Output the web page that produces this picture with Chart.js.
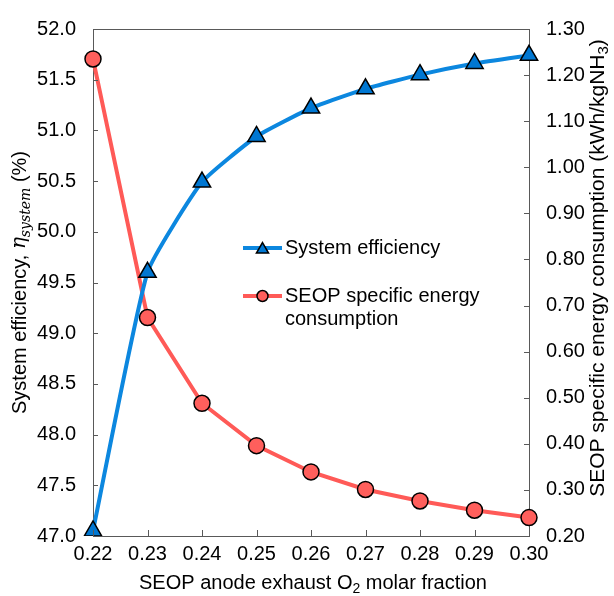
<!DOCTYPE html>
<html>
<head>
<meta charset="utf-8">
<script src="https://cdn.jsdelivr.net/npm/chart.js@4/dist/chart.umd.min.js"></script>
<style>
  html, body { margin: 0; padding: 0; background: #fff; }
  #wrap { width: 614px; height: 596px; }
</style>
</head>
<body>
<div id="wrap"><canvas id="chart" width="614" height="596"></canvas></div>
<script>
const xLabels = ['0.22', '0.23', '0.24', '0.25', '0.26', '0.27', '0.28', '0.29', '0.30'];
const efficiency = [47.05, 49.60, 50.49, 50.94, 51.22, 51.41, 51.55, 51.66, 51.74];
const energy = [1.235, 0.674, 0.488, 0.396, 0.339, 0.301, 0.276, 0.256, 0.240];
const legendNames = ['System efficiency', ['SEOP specific energy', 'consumption']];

const FONT = '"Liberation Sans", Arial, sans-serif';
const BLUE = '#0C87DF', BLUE_PT = '#0077D2';
const RED = '#FF5A57', RED_PT = '#FF5F5C';
const AXIS = '#595959';

function richText(ctx, parts, x, y, angle, size) {
  size = size || 20;
  const sub = Math.round(size * 0.7);
  const fontOf = (p) => `${p.italic ? 'italic ' : ''}${p.sub ? sub : size}px ${p.serif ? '"DejaVu Serif"' : FONT}`;
  ctx.save();
  ctx.translate(x, y);
  ctx.rotate(angle);
  let w = 0;
  for (const p of parts) { ctx.font = fontOf(p); w += ctx.measureText(p.t).width; }
  let cx = -w / 2;
  ctx.textAlign = 'left';
  ctx.textBaseline = 'middle';
  ctx.fillStyle = '#000';
  for (const p of parts) {
    ctx.font = fontOf(p);
    ctx.fillText(p.t, cx, p.sub ? 6 : 0);
    cx += ctx.measureText(p.t).width;
  }
  ctx.restore();
}

function tri(ctx, x, y, r) {
  ctx.beginPath();
  for (let k = 0; k < 3; k++) {
    const a = k * 2 * Math.PI / 3;
    const px = x + Math.sin(a) * r, py = y - Math.cos(a) * r;
    k ? ctx.lineTo(px, py) : ctx.moveTo(px, py);
  }
  ctx.closePath();
}

const decor = {
  id: 'decor',
  afterDraw(chart) {
    const { ctx, chartArea: a, scales } = chart;
    ctx.save();
    // top frame line + inward ticks
    ctx.strokeStyle = AXIS;
    ctx.lineWidth = 1;
    ctx.beginPath();
    ctx.moveTo(a.left, a.top + 0.5); ctx.lineTo(a.right, a.top + 0.5);
    scales.x.ticks.forEach((t, i) => {
      const px = Math.round(scales.x.getPixelForTick(i)) + 0.5;
      ctx.moveTo(px, a.bottom); ctx.lineTo(px, a.bottom - 6);
    });
    scales.y.ticks.forEach((t) => {
      const py = Math.round(scales.y.getPixelForValue(t.value)) + 0.5;
      ctx.moveTo(a.left, py); ctx.lineTo(a.left + 5, py);
    });
    scales.y1.ticks.forEach((t) => {
      const py = Math.round(scales.y1.getPixelForValue(t.value)) + 0.5;
      ctx.moveTo(a.right, py); ctx.lineTo(a.right - 5, py);
    });
    ctx.stroke();

    // axis titles
    richText(ctx, [{ t: 'SEOP anode exhaust O' }, { t: '2', sub: true }, { t: ' molar fraction' }],
      313, 583, 0);
    richText(ctx, [{ t: 'System efficiency, ' }, { t: 'η', italic: true, serif: true },
      { t: 'system', italic: true, serif: true, sub: true }, { t: ' (%)' }],
      20, (a.top + a.bottom) / 2, -Math.PI / 2);
    richText(ctx, [{ t: 'SEOP specific energy consumption (kWh/kgNH' }, { t: '3', sub: true }, { t: ')' }],
      598, 268, -Math.PI / 2, 21);

    // legend inside plot
    const rows = [
      { y: 248, line: BLUE, fill: BLUE_PT, shape: 'tri', text: [legendNames[0]] },
      { y: 296, line: RED, fill: RED_PT, shape: 'circ', text: legendNames[1] },
    ];
    for (const r of rows) {
      ctx.strokeStyle = r.line;
      ctx.lineWidth = 4;
      ctx.beginPath(); ctx.moveTo(243, r.y); ctx.lineTo(282, r.y); ctx.stroke();
      ctx.fillStyle = r.fill;
      ctx.strokeStyle = '#000';
      ctx.lineWidth = 1.5;
      if (r.shape === 'tri') tri(ctx, 262.5, r.y + 1.5, 7);
      else { ctx.beginPath(); ctx.arc(262.5, r.y, 5.5, 0, Math.PI * 2); }
      ctx.fill(); ctx.stroke();
      ctx.fillStyle = '#000';
      ctx.font = `20px ${FONT}`;
      ctx.textAlign = 'left';
      ctx.textBaseline = 'middle';
      r.text.forEach((s, i) => ctx.fillText(s, 285, r.y + i * 23));
    }
    ctx.restore();
  }
};

const tickFont = { family: FONT, size: 20 };
const noGrid = { display: false, drawTicks: false, tickLength: 0 };

new Chart(document.getElementById('chart'), {
  type: 'line',
  data: {
    labels: xLabels,
    datasets: [
      {
        label: 'System efficiency', data: efficiency, yAxisID: 'y',
        borderColor: BLUE, borderWidth: 4, tension: 0.15,
        pointStyle: 'triangle', pointRadius: 10, pointHoverRadius: 10,
        pointBackgroundColor: BLUE_PT, pointBorderColor: '#000', pointBorderWidth: 1.5,
      },
      {
        label: 'SEOP specific energy consumption', data: energy, yAxisID: 'y1',
        borderColor: RED, borderWidth: 4, tension: 0,
        pointStyle: 'circle', pointRadius: 8, pointHoverRadius: 8,
        pointBackgroundColor: RED_PT, pointBorderColor: '#000', pointBorderWidth: 1.5,
      },
    ],
  },
  options: {
    responsive: false,
    animation: false,
    layout: { padding: { top: 21, left: 0, right: 0, bottom: 0 } },
    plugins: { legend: { display: false }, tooltip: { enabled: false } },
    scales: {
      x: {
        type: 'category', offset: false,
        grid: noGrid,
        border: { display: true, color: AXIS, width: 1 },
        ticks: { color: '#000', font: tickFont, padding: 6, maxRotation: 0, autoSkip: false },
        afterFit: (s) => { s.height = 60; },
      },
      y: {
        position: 'left', min: 47, max: 52,
        grid: noGrid,
        border: { display: true, color: AXIS, width: 1 },
        ticks: { stepSize: 0.5, color: '#000', font: tickFont, padding: 17, callback: (v) => Number(v).toFixed(1) },
        afterFit: (s) => { s.width = 93; },
      },
      y1: {
        position: 'right', min: 0.2, max: 1.3,
        grid: noGrid,
        border: { display: true, color: AXIS, width: 1 },
        ticks: { stepSize: 0.1, color: '#000', font: tickFont, padding: 17, callback: (v) => Number(v).toFixed(2) },
        afterFit: (s) => { s.width = 85; },
      },
    },
  },
  plugins: [decor],
});
</script>
</body>
</html>
